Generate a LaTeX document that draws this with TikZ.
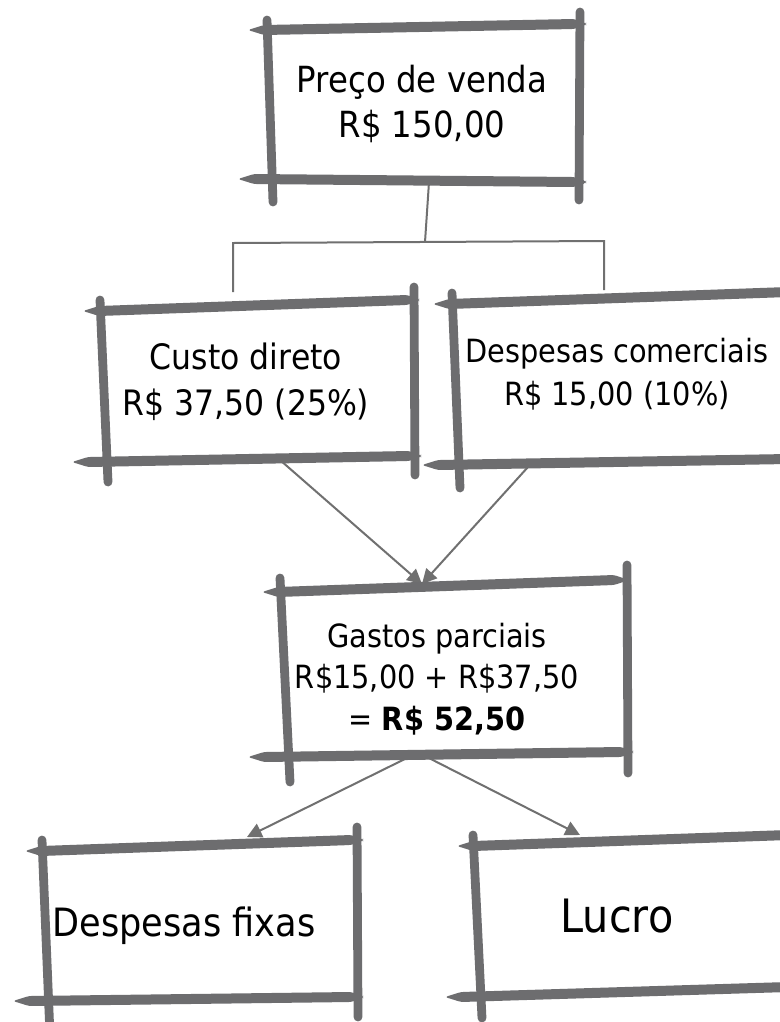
\documentclass[tikz,border=0pt]{standalone}
\usepackage{fontspec}
\setmainfont{DejaVu Sans}[FakeStretch=0.9]
\usetikzlibrary{arrows.meta}
\definecolor{skc}{HTML}{6D6D6F}
\definecolor{lnc}{HTML}{707070}
\newcommand\hstk[4]{\fill[sk] (#1,#2) -- (#1+16,#2-5) -- (#3-12,#4-5) -- (#3,#4-1) -- (#3,#4+1) -- (#3-12,#4+5) -- (#1+16,#2+5) -- cycle;}
\newcommand\vstk[4]{\draw[skv] (#1,#2) -- (#3,#4);}
\tikzset{
  sk/.style={fill=skc, rounded corners=2pt},
  skv/.style={draw=skc, line width=6.6pt, line cap=round},
  conn/.style={draw=lnc, line width=1.5pt},
  arr/.style={conn, -{Triangle[length=11pt,width=11pt]}},
  lbl/.style={align=center, inner sep=0pt, text=black}
}
\begin{document}
\begin{tikzpicture}[x=0.75pt,y=-0.75pt]
\useasboundingbox (0,0) rectangle (780,1022);
\clip (0,0) rectangle (780,1022);
\fill[white] (0,0) rectangle (780,1022);

% text nodes
\node[lbl, font=\fontsize{27}{33.75}\selectfont] (pv) at (422,103.7) {Preço de venda\\R\$ 150,00};
\node[lbl, font=\fontsize{26.25}{34.5}\selectfont] (cd) at (246,381.5) {Custo direto\\R\$ 37,50 (25\%)};
\node[lbl, font=\fontsize{24}{32.25}\selectfont] (dc) at (617,374) {Despesas comerciais\\R\$ 15,00 (10\%)};
\node[lbl, font=\fontsize{24}{31.1}\selectfont] (gp) at (437,679) {Gastos parciais\\R\$15,00 + R\$37,50\\= \textbf{R\$ 52,50}};
\node[lbl, font=\fontsize{29.25}{36}\selectfont] (df) at (184,926) {Despesas fixas};
\node[lbl, font=\fontsize{34.5}{40}\selectfont] (lu) at (617,916) {Lucro};

% connector points
\coordinate (s1) at (429,182);
\coordinate (s2) at (425,242);
\coordinate (bl) at (233,243);
\coordinate (blb) at (233,292);
\coordinate (br) at (604,241);
\coordinate (brb) at (604,290);
\coordinate (cdo) at (280,460);
\coordinate (dco) at (528,467);
\coordinate (gpi) at (422,584);
\coordinate (gpo1) at (413,755);
\coordinate (gpo2) at (423,755);
\coordinate (dfi) at (247,837);
\coordinate (lui) at (580,835);

\draw[conn] (s1) -- (s2);
\draw[conn] (blb) -- (bl) -- (br) -- (brb);
\draw[arr] (cdo) -- (gpi);
\draw[arr] (dco) -- (gpi);
\draw[arr] (gpo1) -- (dfi);
\draw[arr] (gpo2) -- (lui);

% box 1: Preco de venda
\hstk{248}{30}{586}{24}
\hstk{238}{179}{586}{182}
\vstk{267}{20}{273}{202}
\vstk{580}{12}{579}{200}

% box 2: Custo direto
\hstk{83}{311}{419}{300}
\hstk{72}{462}{421}{456}
\vstk{100}{300}{108}{482}
\vstk{414}{287}{415}{475}

% box 3: Despesas comerciais
\hstk{433}{304}{800}{292}
\hstk{422}{465}{800}{459}
\vstk{452}{293}{460}{488}

% box 4: Gastos parciais
\hstk{262}{592}{626}{580}
\hstk{248}{757}{633}{752}
\vstk{280}{578}{290}{782}
\vstk{627}{565}{628}{773}

% box 5: Despesas fixas
\hstk{25}{851}{363}{840}
\hstk{13}{1001}{363}{997}
\vstk{42}{840}{50}{1035}
\vstk{357}{827}{358}{1017}

% box 6: Lucro
\hstk{457}{846}{800}{835}
\hstk{445}{997}{800}{987}
\vstk{473}{835}{482}{1018}
\end{tikzpicture}
\end{document}
